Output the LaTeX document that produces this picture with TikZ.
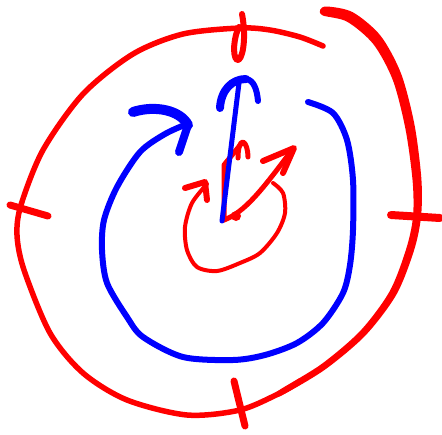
\documentclass[tikz,border=0pt]{standalone}
\definecolor{inkred}{RGB}{255,0,0}
\definecolor{inkblue}{RGB}{0,0,255}
\usetikzlibrary{arrows.meta}

\begin{document}
\begin{tikzpicture}[x=1pt,y=-1pt,line cap=round,line join=round]
  \useasboundingbox (0,0) rectangle (442,434);
  % outer ring, thin part
  \draw[inkred, line width=5.5] plot[smooth] coordinates {(323,46) (300,37) (270,30) (240,28) (183,34) (133,54) (83,94) (43,150) (21,205) (17,235) (24,270) (50,333) (83,373) (127,400) (187,415) (240,410) (280,393) (300,381)};
  % outer ring, heavy stroke on the right
  \fill[inkred] plot[smooth cycle] coordinates {(280.8,395.9) (324.7,369.8) (365.6,335.3) (396.4,294.6) (413.9,250.8) (421,217) (421.4,179.2) (414.5,124.8) (401.1,73.7) (380.6,35.8) (352.9,12.3) (327.1,6.5) (320.1,9.8) (322.9,15.5) (347.1,21.7) (373.4,44.2) (392.9,80.3) (405.5,129.2) (412.6,180.8) (413,217) (406.1,249.2) (389.6,291.4) (360.4,330.7) (321.3,364.2) (279.2,390.1) (277,394)};
  % ticks
  \draw[inkred, line width=7] (10,205) -- (48,216);
  \draw[inkred, line width=8] (391,215) -- (440,218);
  \draw[inkred, line width=7] (234,381) -- (245,426);
  \draw[inkred, line width=6] (242,14) .. controls (247,40) and (242,62) .. (237,60) .. controls (232,56) and (234,36) .. (239,27);
  % inner red arrows
  \coordinate (mid) at (224,220);
  \draw[inkred, line width=5] (mid) -- (224,165) -- (241,144);
  \draw[inkred, line width=5] (238,158) .. controls (238,148) and (240,142) .. (243,142) .. controls (246,143) and (248,150) .. (248,157);
  \draw[inkred, line width=5] (mid) .. controls (245,212) and (262,190) .. (292,150);
  \fill[inkred] (236,216) circle (5);
  \draw[inkred, line width=6] (263,161) -- (294,148) -- (283,173);
  \draw[inkred, line width=4] plot[smooth] coordinates {(273,183) (283,193) (285,213) (277,233) (260,253) (240,263) (217,271) (197,267) (187,250) (185,227) (192,203) (207,184)};
  \draw[inkred, line width=6] (185,188) -- (205,182) -- (207,200);
  % blue spiral
  \draw[inkblue, line width=6] plot[smooth] coordinates {(308,102) (333,113) (347,140) (353,180) (353,230) (350,265) (343,293) (323,323) (297,343) (265,355) (233,360) (183,357) (143,337) (127,317) (107,283) (102,250) (104,220) (117,187) (140,152) (165,134) (187,124)};
  \draw[inkblue, line width=10] (133,112) .. controls (155,105) and (180,110) .. (188,125);
  \draw[inkblue, line width=8] (188,125) -- (179,152);
  % blue arrow
  \draw[inkblue, line width=5] (222,221) -- (239,83);
  \draw[inkblue, line width=8] (220,108) .. controls (221,90) and (232,79) .. (246,79);
  \draw[inkblue, line width=6] (246,79) .. controls (254,80) and (257,90) .. (258,101);
\end{tikzpicture}
\end{document}
